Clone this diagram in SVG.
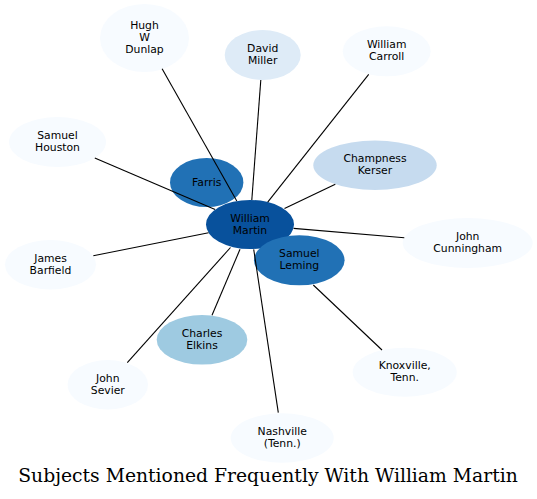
<svg xmlns="http://www.w3.org/2000/svg" width="537" height="499" viewBox="0 0 537 499">
<style>
.n text{font-family:"DejaVu Sans","Liberation Sans",sans-serif;font-size:10.8px;fill:#000;text-anchor:middle}
.c0{fill:#f7fbff}.c1{fill:#deebf7}.c2{fill:#c6dbef}.c3{fill:#9ecae1}.c6{fill:#2171b5}.c7{fill:#08519c}
#edges line{stroke:#000;stroke-width:1.1}
.title{font-family:"DejaVu Serif","Liberation Serif",serif;font-size:18.75px;fill:#000;text-anchor:middle}
</style>
<rect width="537" height="499" fill="#fff"/>
<g id="nodes">
<g id="farris" class="n"><ellipse class="c6" cx="206.7" cy="182.5" rx="36.7" ry="24.5"/><text x="206.7" y="186">Farris</text></g>
<g id="william-martin" class="n"><ellipse class="c7" cx="250" cy="224.5" rx="44" ry="24.5"/><text x="250" y="221.5">William</text><text x="250" y="233.5">Martin</text></g>
<g id="samuel-leming" class="n"><ellipse class="c6" cx="299.3" cy="260.3" rx="45.3" ry="25"/><text x="299.3" y="257.3">Samuel</text><text x="299.3" y="269.3">Leming</text></g>
<g id="hugh-w-dunlap" class="n"><ellipse class="c0" cx="144.5" cy="38" rx="44.5" ry="34"/><text x="144.5" y="28.5">Hugh</text><text x="144.5" y="40.5">W</text><text x="144.5" y="52.5">Dunlap</text></g>
<g id="david-miller" class="n"><ellipse class="c1" cx="262.7" cy="55" rx="38" ry="25"/><text x="262.7" y="52">David</text><text x="262.7" y="64">Miller</text></g>
<g id="william-carroll" class="n"><ellipse class="c0" cx="386.7" cy="51.3" rx="44" ry="25"/><text x="386.7" y="48.3">William</text><text x="386.7" y="60.3">Carroll</text></g>
<g id="samuel-houston" class="n"><ellipse class="c0" cx="57.5" cy="142" rx="48.5" ry="25"/><text x="57.5" y="139">Samuel</text><text x="57.5" y="151">Houston</text></g>
<g id="champness-kerser" class="n"><ellipse class="c2" cx="375" cy="165.3" rx="61.7" ry="24.7"/><text x="375" y="162.3">Champness</text><text x="375" y="174.3">Kerser</text></g>
<g id="john-cunningham" class="n"><ellipse class="c0" cx="467.7" cy="243" rx="65" ry="25"/><text x="467.7" y="240">John</text><text x="467.7" y="252">Cunningham</text></g>
<g id="james-barfield" class="n"><ellipse class="c0" cx="50.5" cy="264.7" rx="45.5" ry="24.7"/><text x="50.5" y="261.7">James</text><text x="50.5" y="273.7">Barfield</text></g>
<g id="charles-elkins" class="n"><ellipse class="c3" cx="202" cy="339.8" rx="45.3" ry="24.8"/><text x="202" y="336.8">Charles</text><text x="202" y="348.8">Elkins</text></g>
<g id="john-sevier" class="n"><ellipse class="c0" cx="107.8" cy="384.7" rx="40.2" ry="24.7"/><text x="107.8" y="381.7">John</text><text x="107.8" y="393.7">Sevier</text></g>
<g id="knoxville" class="n"><ellipse class="c0" cx="404.7" cy="372.2" rx="52" ry="24.5"/><text x="404.7" y="369.2">Knoxville,</text><text x="404.7" y="381.2">Tenn.</text></g>
<g id="nashville" class="n"><ellipse class="c0" cx="282.2" cy="438" rx="51.5" ry="24.7"/><text x="282.2" y="435">Nashville</text><text x="282.2" y="447">(Tenn.)</text></g>
</g>
<g id="edges">
<line x1="236.8" y1="201.1" x2="162.1" y2="68.7"/>
<line x1="251.8" y1="200" x2="260.8" y2="80"/>
<line x1="267.7" y1="202.1" x2="368.7" y2="74.3"/>
<line x1="215.1" y1="209.6" x2="94.8" y2="158"/>
<line x1="284.5" y1="208.5" x2="335.3" y2="184.3"/>
<line x1="293.6" y1="228.4" x2="404.3" y2="237.7"/>
<line x1="208.6" y1="232.8" x2="93.3" y2="255.7"/>
<line x1="230.5" y1="247.5" x2="127.3" y2="362.7"/>
<line x1="240" y1="249.3" x2="212" y2="315.3"/>
<line x1="253.7" y1="249.3" x2="278.3" y2="412.7"/>
<line x1="313.3" y1="285" x2="382" y2="350"/>
</g>
<text class="title" x="268" y="482.3">Subjects Mentioned Frequently With William Martin</text>
</svg>
